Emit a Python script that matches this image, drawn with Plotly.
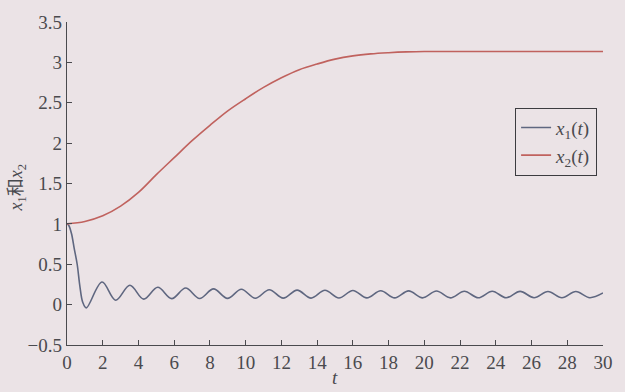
import plotly.graph_objects as go

# x1(t): initial drop, then the extrema of the decaying oscillation
x1_t = [0.0, 0.1, 0.25, 0.4, 0.57, 0.72, 0.88, 1.08,
        1.96, 2.72, 3.52, 4.29, 5.08, 5.86, 6.64, 7.42, 8.20, 8.98,
        9.76, 10.54, 11.32, 12.10, 12.88, 13.66, 14.44, 15.22, 16.00, 16.78,
        17.56, 18.34, 19.12, 19.90, 20.68, 21.46, 22.24, 23.02, 23.80, 24.58,
        25.36, 26.14, 26.92, 27.70, 28.48, 29.26, 30.0]
x1_v = [1.0, 0.98, 0.88, 0.70, 0.50, 0.23, 0.03, -0.04,
        0.28, 0.055, 0.24, 0.068, 0.215, 0.074, 0.205, 0.076, 0.195, 0.078,
        0.19, 0.079, 0.185, 0.080, 0.18, 0.081, 0.178, 0.082, 0.175, 0.083,
        0.172, 0.083, 0.17, 0.084, 0.168, 0.084, 0.166, 0.085, 0.165, 0.085,
        0.164, 0.086, 0.163, 0.086, 0.162, 0.086, 0.145]

# x2(t): smooth rise from 1 to a plateau near 3.13
x2_t = [0, 1, 2, 3, 4, 5, 6, 7, 8, 9, 10, 11, 12, 13, 14, 15, 16, 17, 18,
        19, 20, 22, 26, 30]
x2_v = [1.00, 1.03, 1.10, 1.22, 1.39, 1.61, 1.82, 2.03, 2.22, 2.40, 2.55,
        2.69, 2.81, 2.91, 2.98, 3.04, 3.08, 3.105, 3.12, 3.13, 3.135, 3.135,
        3.135, 3.135]

x_ticks = list(range(0, 31, 2))
y_ticks = [-0.5, 0, 0.5, 1, 1.5, 2, 2.5, 3, 3.5]
y_tick_text = ["\u22120.5", "0", "0.5", "1", "1.5", "2", "2.5", "3", "3.5"]

serif = "Liberation Serif"
bg = "#ebe3e6"
ink = "#4a4a4e"
tick_font = dict(family=serif, size=19, color=ink)

fig = go.Figure()
fig.add_trace(go.Scatter(
    x=x1_t, y=x1_v, mode="lines", name="<i>x</i><sub>1</sub>(<i>t</i>)",
    line=dict(color="#5f6780", width=1.6, shape="spline", smoothing=1.0)))
fig.add_trace(go.Scatter(
    x=x2_t, y=x2_v, mode="lines", name="<i>x</i><sub>2</sub>(<i>t</i>)",
    line=dict(color="#c0625e", width=1.6, shape="spline", smoothing=1.0)))

fig.update_layout(
    width=625, height=392,
    margin=dict(l=67, r=13, t=21, b=47),
    paper_bgcolor=bg, plot_bgcolor=bg,
    font=dict(family=serif, size=19, color=ink),
    showlegend=True,
    legend=dict(x=0.836, y=0.735, xanchor="left", yanchor="top",
                bgcolor=bg, bordercolor="#3c3c40", borderwidth=1,
                font=dict(family=serif, size=19, color=ink), itemwidth=30),
    xaxis=dict(range=[0, 30], tickvals=x_ticks, ticks="inside", ticklen=5,
               tickcolor=ink, tickfont=tick_font, showline=True,
               linecolor=ink, linewidth=1.3, showgrid=False, zeroline=False,
               mirror=False),
    yaxis=dict(range=[-0.5, 3.5], tickvals=y_ticks, ticktext=y_tick_text,
               ticks="inside", ticklen=5, tickcolor=ink, tickfont=tick_font,
               showline=True, linecolor=ink, linewidth=1.3, showgrid=False,
               zeroline=False, mirror=False),
    annotations=[
        dict(text="<i>t</i>", x=0.5, y=-0.102, xref="paper", yref="paper",
             xanchor="center", yanchor="middle", showarrow=False,
             font=dict(family=serif, size=19, color=ink)),
        dict(text="<i>x</i><sub>1</sub>和<i>x</i><sub>2</sub>",
             x=-0.093, y=0.488, xref="paper", yref="paper",
             xanchor="center", yanchor="middle", textangle=-90,
             showarrow=False,
             font=dict(family="Liberation Serif, Noto Sans CJK SC", size=18,
                       color=ink)),
    ],
)

fig.write_html("out.html")
